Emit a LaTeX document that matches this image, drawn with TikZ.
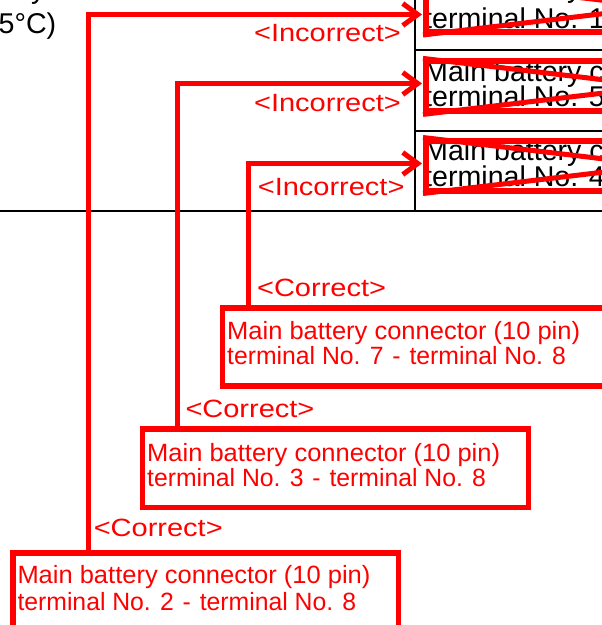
\documentclass[tikz,border=0pt]{standalone}
\usepackage{fontspec}
\setmainfont{Liberation Sans}
\newfontfamily\redfont[FakeStretch=1.02]{Liberation Sans}
\newfontfamily\rednarrow[FakeStretch=0.99]{Liberation Sans}
\newfontfamily\lblfont[FakeStretch=1.16]{Liberation Sans}
\usetikzlibrary{arrows.meta,calc}
\definecolor{rd}{RGB}{255,0,0}
\newcommand{\dashsep}{\kern2pt-\kern2pt}
\begin{document}
\begin{tikzpicture}[x=1pt,y=-1pt,
  blkline/.style={line width=2pt,black},
  blktext/.style={inner sep=0pt,anchor=base west,font=\fontsize{28.6}{30}\selectfont},
  xbox/.style={draw=rd,line width=6pt,minimum width=467pt,minimum height=50pt,inner sep=0pt,anchor=west},
  okbox/.style={draw=rd,line width=5.5pt,minimum width=385.8pt,minimum height=78.4pt,inner sep=0pt,anchor=north west},
  redline/.style={draw=rd,line width=5pt},
  redarrow/.style={redline,-{Straight Barb[length=15pt,width=22pt]}},
  boxtext/.style={inner sep=0pt,anchor=base west,text=rd,font=\redfont\fontsize{25}{26}\selectfont},
  boxtextb/.style={inner sep=0pt,anchor=base west,text=rd,font=\rednarrow\fontsize{25}{26}\selectfont},
  lbl/.style={inner sep=0pt,text=rd,font=\lblfont\fontsize{25}{26}\selectfont},
]
\useasboundingbox (0,0) rectangle (602,625);
\clip (0,0) rectangle (602,625);
\fill[white] (0,0) rectangle (602,625);

% black table lines
\draw[blkline] (0,210.5) -- (602,210.5);
\draw[blkline] (415,0) -- (415,210.5);
\draw[blkline] (415,50.3) -- (602,50.3);
\draw[blkline] (415,130.7) -- (602,130.7);

% black text
\node[blktext] (yfrag) at (31,-1.5) {y};
\node[blktext] (temp) at (-1.5,33.3) {5°C)};
\node[blktext] (w1a) at (424,-2.5) {Main battery connector (10 pin)};
\node[blktext] (w1b) at (424,28.3) {terminal No. 1};
\node[blktext] (w2a) at (424,81.7) {Main battery connector (10 pin)};
\node[blktext] (w2b) at (424,106.7) {terminal No. 5};
\node[blktext] (w3a) at (424,160.5) {Main battery connector (10 pin)};
\node[blktext] (w3b) at (424,186.3) {terminal No. 4};

% crossed-out boxes
\node[xbox] (wrong1) at (423,7) {};
\node[xbox] (wrong2) at (423,86.4) {};
\node[xbox] (wrong3) at (423,165.5) {};
\foreach \w in {wrong1,wrong2,wrong3}{
  \draw[draw=rd,line width=5pt] (\w.north west) -- (\w.south east);
  \draw[draw=rd,line width=5pt] (\w.south west) -- (\w.north east);
}

% correct boxes
\node[okbox] (boxA) at (219.7,305) {};
\node[okbox] (boxB) at (139.7,426.3) {};
\node[okbox] (boxC) at (10,550) {};

\node[boxtext] (a1) at ($(boxA.north west)+(7.3,34)$) {Main battery connector (10 pin)};
\node[boxtextb] (a2) at ($(boxA.north west)+(7.3,59.4)$) {terminal No. 7 \dashsep{} terminal No. 8};
\node[boxtext] (b1) at ($(boxB.north west)+(7.3,34.7)$) {Main battery connector (10 pin)};
\node[boxtextb] (b2) at ($(boxB.north west)+(7.3,60.4)$) {terminal No. 3 \dashsep{} terminal No. 8};
\node[boxtext] (c1) at ($(boxC.north west)+(7.3,33.3)$) {Main battery connector (10 pin)};
\node[boxtextb] (c2) at ($(boxC.north west)+(7.3,60)$) {terminal No. 2 \dashsep{} terminal No. 8};

% connectors
\draw[redarrow] (boxC.north west) ++(78.3,0) |- ($(wrong1.west)+(-1,7.5)$);
\draw[redarrow] (boxB.north west) ++(37.8,0) |- ($(wrong2.west)+(-1,-2.9)$);
\draw[redarrow] (boxA.north west) ++(28.3,0) |- ($(wrong3.west)+(-1,-2)$);

% labels
\node[lbl,anchor=base east] (inc1) at (401,41) {<Incorrect>};
\node[lbl,anchor=base east] (inc2) at (401,111.5) {<Incorrect>};
\node[lbl,anchor=base east] (inc3) at (404.7,195) {<Incorrect>};
\node[lbl,anchor=base west] (cor1) at (256.9,296) {<Correct>};
\node[lbl,anchor=base west] (cor2) at (185.3,417.7) {<Correct>};
\node[lbl,anchor=base west] (cor3) at (93.6,536.7) {<Correct>};
\end{tikzpicture}
\end{document}
